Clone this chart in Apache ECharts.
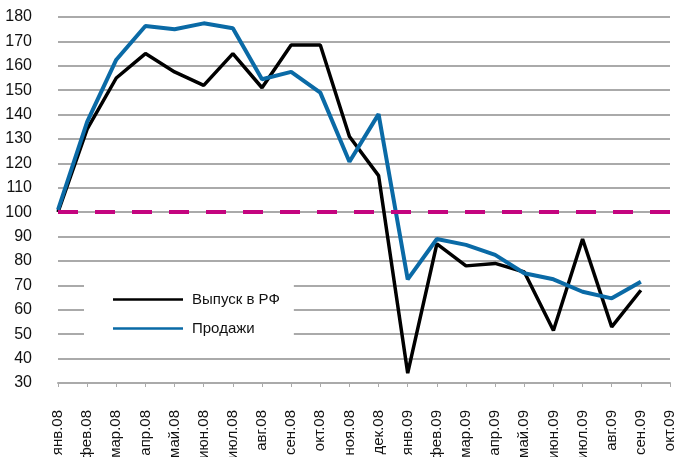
<!DOCTYPE html>
<html>
<head>
<meta charset="utf-8">
<script src="https://cdn.jsdelivr.net/npm/echarts@6/dist/echarts.min.js"></script>
<style>
  html, body { margin: 0; padding: 0; background: #fff; }
  #chart { width: 675px; height: 457px; }
</style>
</head>
<body>
<div id="chart"></div>
<script>
// месяцы
const months = ['янв.08', 'фев.08', 'мар.08', 'апр.08', 'май.08', 'июн.08', 'июл.08', 'авг.08', 'сен.08', 'окт.08', 'ноя.08', 'дек.08',
  'янв.09', 'фев.09', 'мар.09', 'апр.09', 'май.09', 'июн.09', 'июл.09', 'авг.09', 'сен.09', 'окт.09'];
// Выпуск в РФ
const output = [100, 134, 155, 165, 157.5, 152, 165, 151, 168.5, 168.5, 131, 115,
  34, 87, 78, 79, 75.5, 51.5, 89, 53, 68];
// Продажи
const sales = [101, 137, 162.5, 176.3, 175, 177.4, 175.4, 154.5, 157.5, 149, 120.7, 140.2,
  72.5, 89, 86.6, 82.5, 75, 72.5, 67.4, 64.7, 71.5];
const baseLevel = 100;

const chart = echarts.init(document.getElementById('chart'));

const option = {
  backgroundColor: '#ffffff',
  animation: false,
  grid: { left: 58, right: 5, top: 17, bottom: 74, outerBoundsMode: 'none', containLabel: false },
  legend: {
    orient: 'vertical',
    left: 84,
    top: 284,
    backgroundColor: '#ffffff',
    padding: [8, 14, 8, 29],
    itemGap: 14,
    itemWidth: 70,
    itemHeight: 2.5,
    icon: 'rect',
    textStyle: { fontFamily: 'Liberation Sans', fontSize: 15, color: '#111', padding: [0, 0, 0, 4] },
    data: ['Выпуск в РФ', 'Продажи']
  },
  xAxis: {
    type: 'category',
    data: months,
    boundaryGap: false,
    axisLine: { lineStyle: { color: '#aaa', width: 2 } },
    axisTick: { show: true, length: 4, lineStyle: { color: '#aaa', width: 1 } },
    axisLabel: {
      rotate: 90,
      interval: 0,
      margin: 27,
      color: '#111',
      fontFamily: 'Liberation Sans',
      fontSize: 15
    },
    splitLine: { show: false }
  },
  yAxis: {
    type: 'value',
    min: 30,
    max: 180,
    interval: 10,
    axisLine: { show: false },
    axisTick: { show: false },
    axisLabel: { color: '#111', fontFamily: 'Liberation Sans', fontSize: 16, margin: 26 },
    splitLine: { lineStyle: { color: '#aaa', width: 2 } }
  },
  series: [
    {
      name: 'Выпуск в РФ',
      type: 'line',
      data: output,
      symbol: 'none',
      color: '#000000',
      lineStyle: { width: 3.5, color: '#000000' },
      z: 3
    },
    {
      name: 'Продажи',
      type: 'line',
      data: sales,
      symbol: 'none',
      color: '#0a6aa6',
      lineStyle: { width: 4, color: '#0a6aa6' },
      z: 4,
      markLine: {
        silent: true,
        symbol: 'none',
        label: { show: false },
        lineStyle: { color: '#c4047f', width: 4, type: [20, 17] },
        data: [{ yAxis: baseLevel }]
      }
    }
  ]
};

chart.setOption(option);
</script>
</body>
</html>
